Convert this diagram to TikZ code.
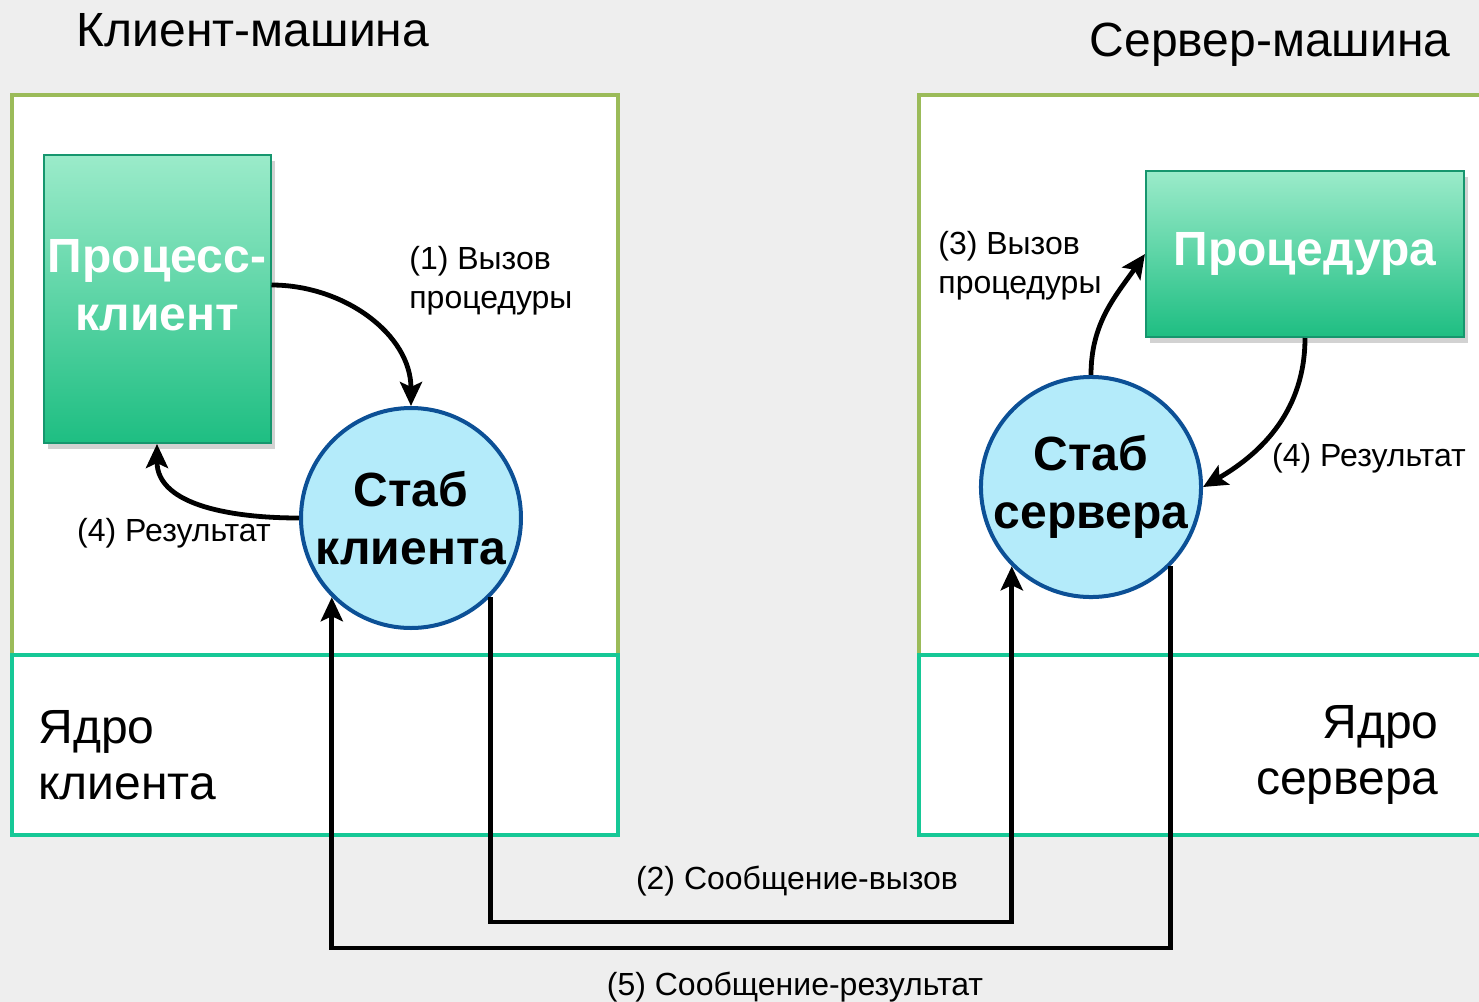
\documentclass[tikz,border=0pt]{standalone}
\usepackage{fontspec}
\setmainfont{Liberation Sans}
\usepackage{xcolor}
\usepackage{tikz}
\usetikzlibrary{positioning,arrows.meta,shadows}
\definecolor{bggray}{HTML}{EEEEEE}
\definecolor{machgreen}{RGB}{155,187,89}
\definecolor{kerngreen}{RGB}{22,200,150}
\definecolor{procedge}{RGB}{22,150,110}
\definecolor{proctop}{RGB}{155,235,202}
\definecolor{procmid}{RGB}{85,215,165}
\definecolor{procbot}{RGB}{30,190,130}
\definecolor{stubfill}{RGB}{180,235,250}
\definecolor{stubedge}{RGB}{12,80,150}
\tikzset{
  flow/.style={-{Stealth[length=12pt,width=11pt,inset=2.5pt]}, line width=2.4pt, draw=black},
  every node/.style={anchor=center}
}

\begin{document}
\begin{tikzpicture}[
  x=0.5pt, y=-0.5pt,
  font=\fontsize{16}{19.5}\selectfont,
  machine/.style={draw=machgreen, line width=2pt, fill=white},
  kernel/.style={draw=kerngreen, line width=2pt, fill=white},
  proc/.style={draw=procedge, line width=1pt, top color=proctop, middle color=procmid, bottom color=procbot, text=white, inner sep=0pt, align=center, font=\bfseries\fontsize{24}{29}\selectfont, drop shadow={opacity=0.35, shadow xshift=2pt, shadow yshift=-3pt}},
  stub/.style={circle, draw=stubedge, line width=2pt, fill=stubfill, minimum size=110pt, inner sep=0pt, align=center, font=\bfseries\fontsize{24}{29}\selectfont},
  lbl/.style={align=left, inner sep=0pt},
  heading/.style={font=\fontsize{24}{29}\selectfont},
  kernlbl/.style={inner sep=0pt, font=\fontsize{24}{28}\selectfont}
]
\useasboundingbox (0,0) rectangle (1479,1002);
\clip (0,0) rectangle (1479,1002);
\fill[bggray] (0,0) rectangle (1479,1002);

% machines
\draw[machine] (12,95) rectangle (618,655);
\draw[kernel] (12,655) rectangle (618,835);
\draw[machine] (919,95) rectangle (1495,655);
\draw[kernel] (919,655) rectangle (1495,835);
\node[heading] (cmach) at (253,30) {Клиент-машина};
\node[heading] (smach) at (1270,45) {Сервер-машина};
\node[kernlbl, align=left, anchor=west] (ckern) at (38,755) {Ядро\\клиента};
\node[kernlbl, align=right, anchor=east] (skern) at (1439,755) {Ядро\\сервера};

% processes and stubs
\node[proc, minimum width=113.5pt, minimum height=144pt, text depth=14pt] (pclient) at (157,299) {Процесс-\\клиент};
\node[proc, minimum width=159pt, minimum height=83pt] (proc) at (1305,254) {Процедура};
\node[stub] (cstub) at (411,518) {Стаб\\клиента};
\node[stub] (sstub) at (1091,487) {Стаб\\сервера};

% local calls
\draw[flow] ([yshift=7pt]pclient.east) to[out=0, in=90] (cstub.north);
\draw[flow] (cstub.west) to[out=180, in=-90] (pclient.south);
\draw[flow] (sstub.north) to[out=90, in=235] (proc.west);
\draw[flow] (proc.south) to[out=-90, in=30] (sstub.east);
\node[lbl, anchor=west] (l1) at (409,281) {(1) Вызов\\процедуры};
\node[lbl, anchor=west] (l3) at (938,266) {(3) Вызов\\процедуры};
\node (l4c) at (174,533) {(4) Результат};
\node (l4s) at (1369,458) {(4) Результат};

% messages
\coordinate (callbot) at (0,922);
\coordinate (resbot) at (0,948);
\draw[flow] (cstub.-45) -- (cstub.-45 |- callbot) -| (sstub.-135);
\draw[flow] (sstub.-45) -- (sstub.-45 |- resbot) -| (cstub.-135);
\node (l2) at (797,881) {(2) Сообщение-вызов};
\node (l5) at (795,987) {(5) Сообщение-результат};
\end{tikzpicture}
\end{document}
